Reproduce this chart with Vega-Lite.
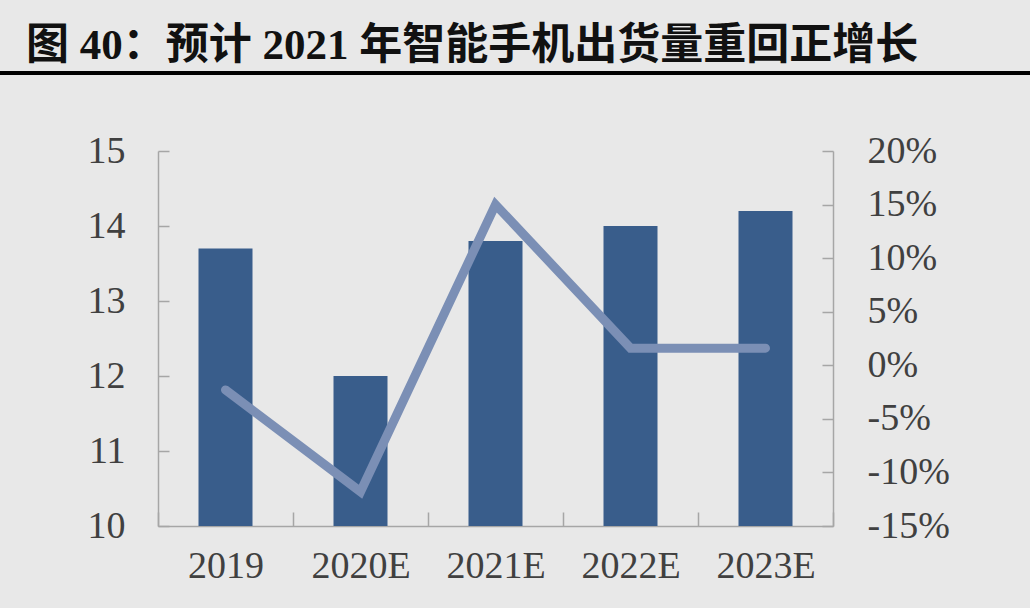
{
  "$schema": "https://vega.github.io/schema/vega-lite/v6.json",
  "width": 675,
  "height": 375,
  "autosize": {"type": "none"},
  "padding": {"left": 158, "top": 151, "right": 197, "bottom": 82},
  "background": "#e8e8e8",
  "title": {
    "text": "图 40：预计 2021 年智能手机出货量重回正增长",
    "anchor": "start",
    "frame": "group",
    "dx": -132,
    "offset": 3,
    "font": "Liberation Serif, Noto Sans CJK SC",
    "fontSize": 43,
    "fontWeight": "bold",
    "color": "#111111"
  },
  "data": {
    "values": [
      {"year": "2019", "shipments": 13.7, "growth": -0.023},
      {"year": "2020E", "shipments": 12.0, "growth": -0.118},
      {"year": "2021E", "shipments": 13.8, "growth": 0.15},
      {"year": "2022E", "shipments": 14.0, "growth": 0.016},
      {"year": "2023E", "shipments": 14.2, "growth": 0.016}
    ]
  },
  "encoding": {
    "x": {
      "field": "year",
      "type": "ordinal",
      "sort": null,
      "scale": {"paddingInner": 0, "paddingOuter": 0},
      "axis": {
        "title": null,
        "labelAngle": 0,
        "labelFont": "Liberation Serif",
        "labelFontSize": 38,
        "labelColor": "#404040",
        "labelPadding": 35,
        "domainColor": "#a6a6a6",
        "domainWidth": 1.5,
        "tickColor": "#a6a6a6",
        "tickWidth": 1.5,
        "tickSize": -14,
        "tickBand": "extent"
      }
    }
  },
  "layer": [
    {
      "mark": {"type": "bar", "color": "#395d8b", "size": 54},
      "encoding": {
        "y": {
          "field": "shipments",
          "type": "quantitative",
          "scale": {"domain": [10, 15], "zero": false},
          "axis": {
            "title": null,
            "values": [10, 11, 12, 13, 14, 15],
            "grid": false,
            "labelFont": "Liberation Serif",
            "labelFontSize": 38,
            "labelColor": "#404040",
            "labelPadding": 44,
            "domainColor": "#a6a6a6",
            "domainWidth": 1.5,
            "tickColor": "#a6a6a6",
            "tickWidth": 1.5,
            "tickSize": -11
          }
        },
        "y2": {"datum": 10}
      }
    },
    {
      "mark": {"type": "line", "color": "#7b8fb5", "strokeWidth": 9, "strokeCap": "round"},
      "encoding": {
        "y": {
          "field": "growth",
          "type": "quantitative",
          "scale": {"domain": [-0.15, 0.2]},
          "axis": {
            "orient": "right",
            "title": null,
            "format": ".0%",
            "labelExpr": "replace(datum.label, '−', '-')",
            "values": [-0.15, -0.1, -0.05, 0, 0.05, 0.1, 0.15, 0.2],
            "grid": false,
            "labelFont": "Liberation Serif",
            "labelFontSize": 38,
            "labelColor": "#404040",
            "labelPadding": 45,
            "domainColor": "#a6a6a6",
            "domainWidth": 1.5,
            "tickColor": "#a6a6a6",
            "tickWidth": 1.5,
            "tickSize": -11
          }
        }
      }
    },
    {
      "mark": {"type": "rule", "color": "#000000", "strokeWidth": 3.5, "clip": false},
      "encoding": {
        "x": {"value": -158},
        "x2": {"value": 872},
        "y": {"value": -78}
      }
    }
  ],
  "resolve": {"scale": {"y": "independent"}},
  "config": {
    "view": {"stroke": null}
  }
}
